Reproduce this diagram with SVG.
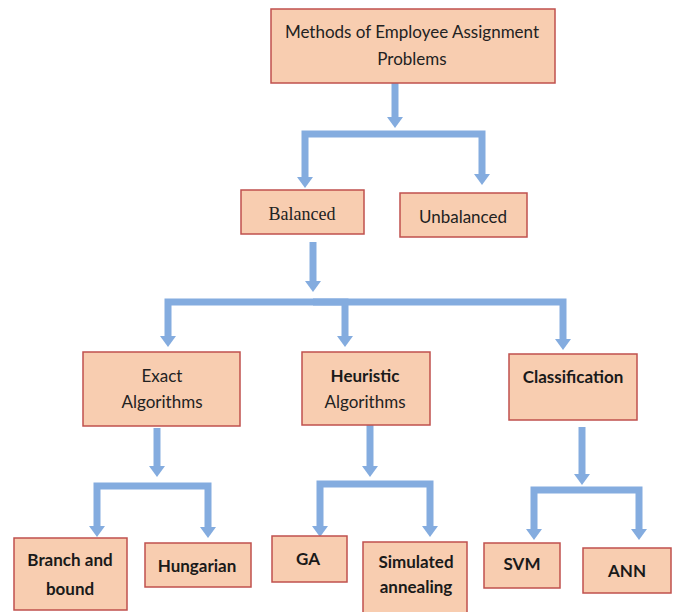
<svg xmlns="http://www.w3.org/2000/svg" width="675" height="612" viewBox="0 0 675 612">
<defs>
<style>
.box{fill:#F8CDB0;stroke:#C0504D;stroke-width:1.5}
.t{font-family:Lato,"Open Sans","Liberation Sans",sans-serif;font-size:17px;fill:#222222;text-anchor:middle}
.b{font-weight:bold;fill:#1a1a1a}
.c{fill:none;stroke:#84ACDF;stroke-width:7;stroke-linejoin:miter;marker-end:url(#ah)}
</style>
<marker id="ah" markerUnits="userSpaceOnUse" markerWidth="12" markerHeight="18" viewBox="0 -9 12 18" refX="0" refY="0" orient="auto">
<path d="M0,-8 L11,0 L0,8 z" fill="#84ACDF"/>
</marker>
</defs>
<rect width="675" height="612" fill="#ffffff"/>
<g id="connectors">
<path class="c" d="M395,83 V117"/>
<path class="c" d="M395,134 H305 V177"/>
<path class="c" d="M395,134 H482 V174"/>
<path class="c" d="M313,242 V281"/>
<path class="c" d="M313,302 H168 V336"/>
<path class="c" d="M313,302 H345 V336"/>
<path class="c" d="M313,302 H563 V339"/>
<path class="c" d="M157,428 V466"/>
<path class="c" d="M157,486 H97 V526"/>
<path class="c" d="M157,486 H208 V527"/>
<path class="c" d="M370,421 V466"/>
<path class="c" d="M370,484 H320 V526"/>
<path class="c" d="M370,484 H430 V526"/>
<path class="c" d="M582,427 V474"/>
<path class="c" d="M582,490 H534 V529"/>
<path class="c" d="M582,490 H639 V529"/>
</g>
<g id="root">
<rect class="box" x="271" y="9" width="284" height="74"/>
<text class="t" x="412" y="38">Methods of Employee Assignment</text>
<text class="t" x="412" y="65">Problems</text>
</g>
<g id="balanced">
<rect class="box" x="241" y="190" width="123" height="44"/>
<text x="302" y="220" font-family="Times New Roman, Liberation Serif, serif" font-size="18" fill="#222222" text-anchor="middle">Balanced</text>
</g>
<g id="unbalanced">
<rect class="box" x="400" y="193" width="127" height="44"/>
<text class="t" x="463" y="223">Unbalanced</text>
</g>
<g id="exact">
<rect class="box" x="83" y="352" width="157" height="74"/>
<text class="t" x="162" y="382">Exact</text>
<text class="t" x="162" y="408">Algorithms</text>
</g>
<g id="heuristic">
<rect class="box" x="302" y="352" width="128" height="73"/>
<text class="t b" x="365" y="382">Heuristic</text>
<text class="t" x="365" y="408">Algorithms</text>
</g>
<g id="classification">
<rect class="box" x="509" y="354" width="128" height="66"/>
<text class="t b" x="573" y="383">Classification</text>
</g>
<g id="branch">
<rect class="box" x="14" y="538" width="113" height="72"/>
<text class="t b" x="70" y="566">Branch and</text>
<text class="t b" x="70" y="595">bound</text>
</g>
<g id="hungarian">
<rect class="box" x="145" y="543" width="106" height="44"/>
<text class="t b" x="197" y="572">Hungarian</text>
</g>
<g id="ga">
<rect class="box" x="272" y="536" width="75" height="46"/>
<text class="t b" x="308" y="565">GA</text>
</g>
<g id="simulated">
<rect class="box" x="363" y="542" width="104" height="74"/>
<text class="t b" x="416" y="568">Simulated</text>
<text class="t b" x="416" y="593">annealing</text>
</g>
<g id="svm">
<rect class="box" x="484" y="543" width="76" height="45"/>
<text class="t b" x="522" y="570">SVM</text>
</g>
<g id="ann">
<rect class="box" x="583" y="548" width="88" height="45"/>
<text class="t b" x="627" y="577">ANN</text>
</g>
</svg>
